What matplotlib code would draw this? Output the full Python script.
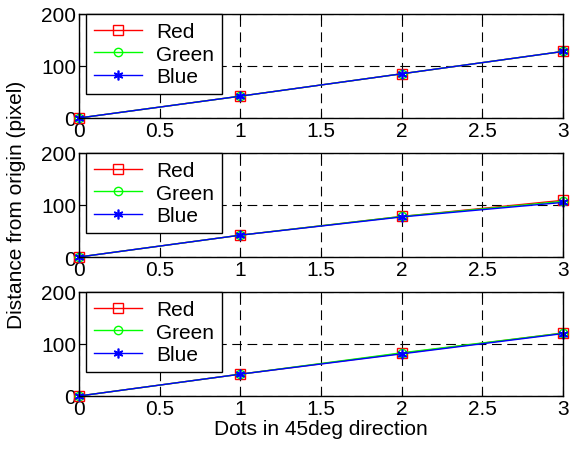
import matplotlib.pyplot as plt
import numpy as np

plt.rcParams['font.family'] = ['Liberation Sans', 'DejaVu Sans']
plt.rcParams['lines.scale_dashes'] = False

dots = [0, 1, 2, 3]
# rows: panels, each with red, green, blue
red = [[0, 42, 85, 128], [0, 42, 78, 109], [0, 42, 82, 121]]
green = [[0, 42, 85, 128], [0, 42, 78, 107], [0, 42, 83, 121]]
blue = [[0, 42, 85, 128], [0, 42, 77, 105], [0, 42, 81, 120]]
xticks = [0, 0.5, 1, 1.5, 2, 2.5, 3]
yticks = [0, 100, 200]

fig = plt.figure(figsize=(5.7, 4.52), dpi=100)
fs = 15
tops = [15, 154, 293]
for k in range(3):
    top = tops[k]
    ax = fig.add_axes([79 / 570, 1 - (top + 104) / 452, 484 / 570, 104 / 452])
    ax.plot(dots, red[k], color='r', marker='s', mfc='none', ms=7, lw=1, label='Red', clip_on=False)
    ax.plot(dots, green[k], color='#00ff00', marker='o', mfc='none', ms=6, lw=1, label='Green', clip_on=False)
    ax.plot(dots, blue[k], color='b', marker=(6, 2, 0), ms=7, mew=1.2, lw=1, label='Blue', clip_on=False)
    ax.set_xlim(0, 3)
    ax.set_ylim(0, 200)
    ax.set_xticks(xticks)
    ax.set_xticklabels(['0', '0.5', '1', '1.5', '2', '2.5', '3'])
    ax.set_yticks(yticks)
    ax.tick_params(direction='in', labelsize=fs, length=4, pad=2, top=True, right=True)
    ax.grid(True, color='k', linestyle=(0, (7, 4)), lw=0.8)
    ax.set_axisbelow(True)
    for s in ax.spines.values():
        s.set_linewidth(1)
    leg = ax.legend(loc='upper left', bbox_to_anchor=(0.014, 1.0), borderaxespad=0,
                    fancybox=False, edgecolor='k', framealpha=1, fontsize=fs,
                    handlelength=2.3, handletextpad=0.7, labelspacing=0.18, borderpad=0.38)
    leg.get_frame().set_linewidth(1)
    if k == 2:
        ax.set_xlabel('Dots in 45deg direction', fontsize=fs, labelpad=1)

fig.text(17 / 570, 1 - 205 / 452, 'Distance from origin (pixel)', rotation=90,
         fontsize=fs, ha='center', va='center')

plt.savefig('out.png', dpi=100)
